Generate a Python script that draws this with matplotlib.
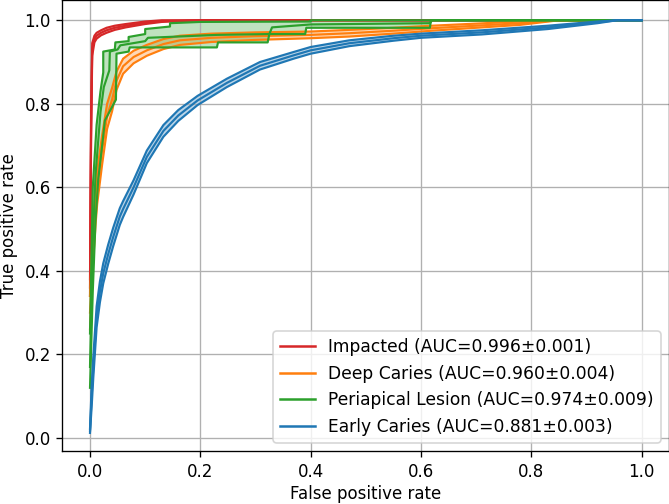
import numpy as np
import matplotlib
matplotlib.use("Agg")
import matplotlib.pyplot as plt

# class names and AUC summary (mean, std) shown in the legend
names = ["Impacted", "Deep Caries", "Periapical Lesion", "Early Caries"]
auc_mean = [0.996, 0.960, 0.974, 0.881]
auc_std = [0.001, 0.004, 0.009, 0.003]
colors = ["tab:red", "tab:orange", "tab:green", "tab:blue"]

# Impacted: mean ROC and std of TPR
red_fpr = [0, 0.002, 0.004, 0.008, 0.012, 0.02, 0.03, 0.045, 0.065, 0.1, 0.13, 0.2, 1.0]
red_tpr = [0.36, 0.75, 0.93, 0.955, 0.963, 0.97, 0.976, 0.982, 0.987, 0.994, 0.998, 1.0, 1.0]
red_std = [0.02, 0.03, 0.015, 0.008, 0.007, 0.006, 0.006, 0.005, 0.004, 0.003, 0.002, 0.0, 0.0]

# Deep Caries
org_fpr = [0, 0.005, 0.01, 0.013, 0.022, 0.031, 0.04, 0.048, 0.06, 0.079, 0.103, 0.133,
           0.163, 0.22, 0.3, 0.4, 0.47, 0.55, 0.62, 0.7, 0.78, 0.85, 1.0]
org_tpr = [0.30, 0.45, 0.55, 0.60, 0.69, 0.77, 0.81, 0.855, 0.89, 0.912, 0.928, 0.943,
           0.952, 0.958, 0.962, 0.965, 0.969, 0.975, 0.981, 0.987, 0.993, 1.0, 1.0]
org_std = [0.04, 0.04, 0.04, 0.04, 0.035, 0.03, 0.028, 0.022, 0.018, 0.015, 0.013, 0.012,
           0.011, 0.01, 0.009, 0.008, 0.008, 0.007, 0.006, 0.005, 0.004, 0.0, 0.0]

# Periapical Lesion (step-like, upper / mean / lower read separately)
grn_hi_fpr = [0, 0.005, 0.012, 0.019, 0.024, 0.024, 0.045, 0.046, 0.07, 0.07, 0.1, 0.1,
              0.145, 0.145, 0.2, 0.4, 0.4, 1.0]
grn_hi_tpr = [0.25, 0.60, 0.75, 0.83, 0.875, 0.925, 0.93, 0.947, 0.95, 0.96, 0.967, 0.979,
              0.985, 0.993, 0.996, 0.997, 1.0, 1.0]
grn_fpr = [0, 0.005, 0.01, 0.019, 0.025, 0.035, 0.036, 0.05, 0.055, 0.1, 0.105, 0.23,
           0.325, 0.33, 0.4, 0.616, 0.62, 1.0]
grn_tpr = [0.17, 0.47, 0.63, 0.78, 0.84, 0.88, 0.925, 0.93, 0.94, 0.95, 0.958, 0.965,
           0.967, 0.983, 0.99, 0.993, 1.0, 1.0]
grn_lo_fpr = [0, 0.005, 0.01, 0.015, 0.022, 0.027, 0.047, 0.048, 0.07, 0.072, 0.23, 0.232,
              0.322, 0.325, 0.39, 0.392, 0.616, 0.618, 1.0]
grn_lo_tpr = [0.12, 0.35, 0.52, 0.62, 0.70, 0.76, 0.81, 0.92, 0.925, 0.935, 0.935, 0.947,
              0.947, 0.967, 0.967, 0.982, 0.982, 1.0, 1.0]

# Early Caries
blu_fpr = [0, 0.003, 0.006, 0.012, 0.018, 0.024, 0.033, 0.042, 0.054, 0.06, 0.079, 0.103,
           0.133, 0.16, 0.195, 0.248, 0.308, 0.369, 0.4, 0.47, 0.55, 0.6, 0.71, 0.83,
           0.92, 0.955, 1.0]
blu_tpr = [0.017, 0.10, 0.17, 0.29, 0.35, 0.394, 0.44, 0.481, 0.53, 0.548, 0.60, 0.673,
           0.735, 0.772, 0.808, 0.85, 0.891, 0.916, 0.928, 0.945, 0.957, 0.963, 0.971, 0.983,
           0.995, 1.0, 1.0]
blu_std = [0.005, 0.025, 0.025, 0.025, 0.025, 0.024, 0.023, 0.022, 0.02, 0.019, 0.017, 0.015,
           0.014, 0.013, 0.011, 0.01, 0.009, 0.008, 0.008, 0.007, 0.006, 0.005, 0.005, 0.004,
           0.002, 0.0, 0.0]


def band(fpr, tpr, std):
    tpr, std = np.array(tpr), np.array(std)
    lo = np.clip(tpr - std, 0, 1)
    hi = np.clip(tpr + std, 0, 1)
    return (fpr, hi), (fpr, tpr), (fpr, lo)


curves = [
    band(red_fpr, red_tpr, red_std),
    band(org_fpr, org_tpr, org_std),
    ((grn_hi_fpr, grn_hi_tpr), (grn_fpr, grn_tpr), (grn_lo_fpr, grn_lo_tpr)),
    band(blu_fpr, blu_tpr, blu_std),
]

dpi = 120
fig = plt.figure(figsize=(669 / dpi, 504 / dpi), dpi=dpi)
ax = fig.add_axes([0.0933, 0.1046, 0.9072, 0.8958])

for i, (hi, mid, lo) in enumerate(curves):
    c = colors[i]
    # shaded band between upper and lower curves
    px = np.r_[hi[0], lo[0][::-1]]
    py = np.r_[hi[1], lo[1][::-1]]
    ax.fill(px, py, color=c, alpha=0.3, lw=0)
    ax.plot(hi[0], hi[1], color=c, lw=1.3)
    ax.plot(lo[0], lo[1], color=c, lw=1.3)
    ax.plot(mid[0], mid[1], color=c, lw=1.3,
            label=f"{names[i]} (AUC={auc_mean[i]:.3f}\u00b1{auc_std[i]:.3f})")

ax.set_xlim(-0.05, 1.05)
ax.set_ylim(-0.032, 1.049)
ax.set_xlabel("False positive rate", labelpad=2.5)
ax.set_ylabel("True positive rate")
ax.grid(True)
leg = ax.legend(loc="lower right", prop={"size": 10.3})
for line in leg.get_lines():
    line.set_linewidth(1.5)

fig.savefig("out.png", dpi=dpi)
